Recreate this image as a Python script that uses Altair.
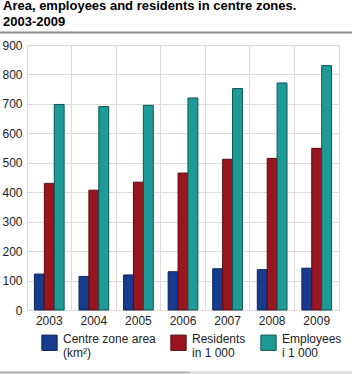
import altair as alt
import pandas as pd

years = ["2003", "2004", "2005", "2006", "2007", "2008", "2009"]
area = [122, 114, 119, 130, 140, 137, 142]
residents = [430, 407, 434, 465, 512, 515, 549]
employees = [698, 691, 695, 720, 752, 771, 830]

series = ["Centre zone area|(km²)", "Residents|in 1 000", "Employees|i 1 000"]
fills = ["#173c8e", "#99151f", "#1f9b97"]
strokes = ["#0d2560", "#5a0b11", "#0e5553"]

rows = []
for i, y in enumerate(years):
    for s, vals in zip(series, [area, residents, employees]):
        rows.append({"year": y, "series": s, "value": vals[i]})
df = pd.DataFrame(rows)

FONT = "Liberation Sans"

bars = alt.Chart(df).mark_bar(strokeWidth=1).encode(
    x=alt.X("year:N", sort=years, title=None,
            scale=alt.Scale(paddingInner=0, paddingOuter=0),
            axis=alt.Axis(labelAngle=0, ticks=False, domain=False, grid=True,
                          bandPosition=0, gridColor="#dcdcdc", labelPadding=5,
                          labelFontSize=12, labelColor="#222", labelFont=FONT)),
    xOffset=alt.XOffset("series:N", sort=series,
                        scale=alt.Scale(paddingInner=0, paddingOuter=0.75)),
    y=alt.Y("value:Q", title=None,
            scale=alt.Scale(domain=[0, 900], nice=False),
            axis=alt.Axis(values=list(range(0, 901, 100)), ticks=False, domain=False,
                          gridColor="#dcdcdc", labelPadding=5, labelFontSize=12,
                          labelColor="#222", labelFont=FONT)),
    color=alt.Color("series:N", sort=series,
                    scale=alt.Scale(domain=series, range=fills),
                    legend=alt.Legend(title=None, orient="none", legendX=14, legendY=289,
                                      direction="horizontal", columns=3,
                                      symbolType="square", symbolSize=235,
                                      symbolStrokeColor="#444", symbolStrokeWidth=1,
                                      labelExpr="split(datum.label, '|')",
                                      labelBaseline="alphabetic", labelFontSize=12,
                                      labelFont=FONT, labelColor="#222",
                                      labelOffset=5, columnPadding=12, padding=0,
                                      labelLimit=200)),
    stroke=alt.Stroke("series:N", sort=series,
                      scale=alt.Scale(domain=series, range=strokes), legend=None),
)

# decorative separator lines (pixel positions relative to the plot area)
top_rule = alt.Chart(pd.DataFrame({"a": [0]})).mark_rule(
    strokeWidth=2, color="#8a8a8a", strokeOpacity=1).encode(
    x=alt.value(-27), x2=alt.value(325), y=alt.value(-12.5))

rule_x = [-27, 163]
rule_x2 = [163, 325]
rule_y = [327.5, 327.5]
rule_color = ["#aaaaaa", "#d4d4d4"]
rules_df = pd.DataFrame({"xp": rule_x, "xp2": rule_x2, "ypix": rule_y, "col": rule_color})
bottom_rules = alt.Chart(rules_df).mark_rule(strokeWidth=2).encode(
    x=alt.X("xp:Q", scale=None), x2="xp2:Q",
    y=alt.Y("ypix:Q", scale=None),
    color=alt.Color("col:N", scale=None))

chart = alt.layer(bars, bottom_rules, top_rule).properties(
    width=312, height=265,
    autosize=alt.AutoSizeParams(type="none"),
    padding={"left": 27, "top": 45, "right": 13, "bottom": 64},
    title=alt.TitleParams(
        ["Area, employees and residents in centre zones.", "2003-2009"],
        anchor="start", frame="group", dx=-24, fontSize=13, font=FONT,
        fontWeight="bold", color="#000", lineHeight=16, offset=3),
).configure_view(stroke="#dcdcdc")

chart.save("out.html", embed_options={"renderer": "svg", "actions": False})
